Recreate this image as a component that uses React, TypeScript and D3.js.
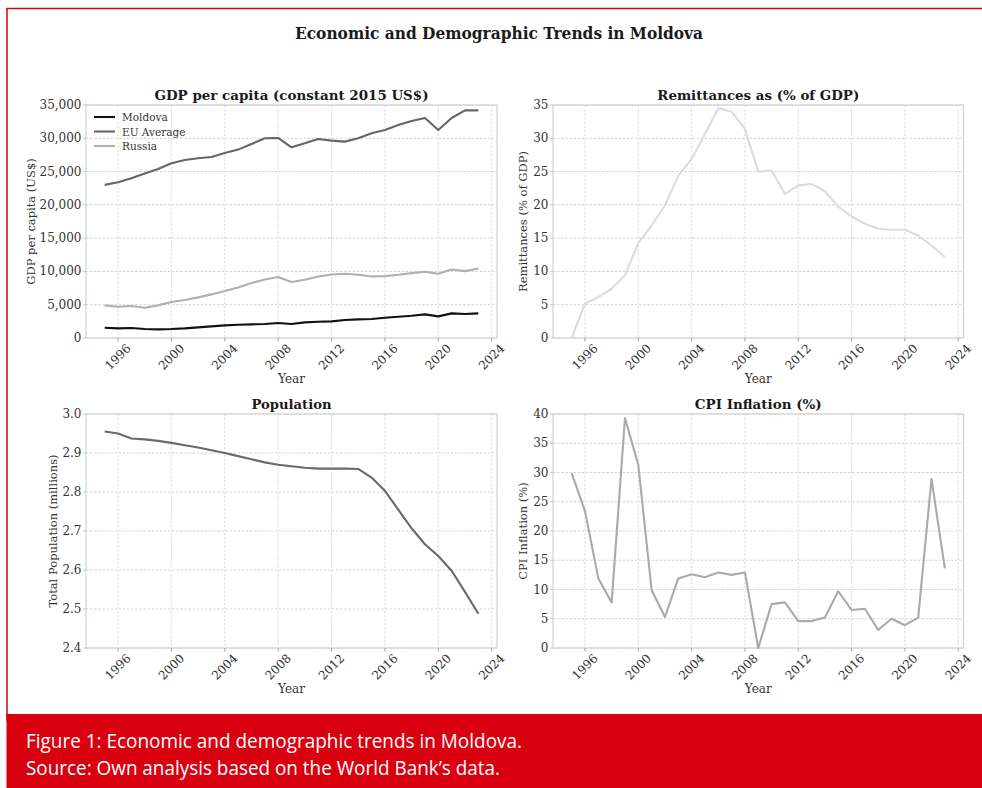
import React from "react";
import * as d3 from "d3";

const years: number[] = d3.range(1995, 2024);

const gdpMoldova = [1550, 1450, 1500, 1350, 1300, 1350, 1450, 1600, 1750, 1900, 2000, 2050, 2100, 2250, 2100, 2350, 2450, 2500, 2700, 2800, 2850, 3050, 3200, 3350, 3550, 3250, 3700, 3600, 3700];
const gdpEU = [23000, 23400, 24000, 24700, 25400, 26250, 26750, 27000, 27200, 27800, 28300, 29150, 30000, 30050, 28650, 29250, 29900, 29650, 29500, 30000, 30750, 31250, 32000, 32600, 33050, 31250, 33050, 34200, 34200];
const gdpRussia = [4900, 4700, 4800, 4550, 4900, 5400, 5700, 6100, 6550, 7050, 7600, 8250, 8800, 9150, 8400, 8750, 9250, 9550, 9650, 9500, 9250, 9300, 9500, 9750, 9950, 9650, 10300, 10050, 10450];
const remittances = [0, 5.15, 6.15, 7.4, 9.4, 14.25, 16.9, 19.9, 24.4, 26.9, 30.65, 34.5, 34.0, 31.4, 25.0, 25.15, 21.65, 22.9, 23.15, 22.05, 19.75, 18.25, 17.15, 16.4, 16.25, 16.25, 15.4, 13.9, 12.15];
const population = [2.955, 2.95, 2.937, 2.935, 2.931, 2.926, 2.92, 2.914, 2.907, 2.9, 2.892, 2.884, 2.876, 2.87, 2.866, 2.862, 2.86, 2.86, 2.86, 2.859, 2.837, 2.803, 2.755, 2.707, 2.666, 2.636, 2.598, 2.544, 2.488];
const cpi = [29.9, 23.4, 11.9, 7.8, 39.3, 31.3, 9.9, 5.3, 11.9, 12.6, 12.1, 12.9, 12.5, 12.9, 0.0, 7.5, 7.8, 4.6, 4.6, 5.2, 9.7, 6.5, 6.7, 3.1, 5.0, 3.9, 5.2, 28.9, 13.6];

const xTicks = [1996, 2000, 2004, 2008, 2012, 2016, 2020, 2024];
const gdpTicks = [0, 5000, 10000, 15000, 20000, 25000, 30000, 35000];
const remitTicks = [0, 5, 10, 15, 20, 25, 30, 35];
const popTicks = [2.4, 2.5, 2.6, 2.7, 2.8, 2.9, 3.0];
const cpiTicks = [0, 5, 10, 15, 20, 25, 30, 35, 40];

const mainTitle = "Economic and Demographic Trends in Moldova";
const captionLines = [
  "Figure 1: Economic and demographic trends in Moldova.",
  "Source: Own analysis based on the World Bank\u2019s data.",
];

const SERIF = "'DejaVu Serif', serif";
const RED = "#d9000f";

type Series = { name: string; values: number[]; color: string };

type PanelProps = {
  x0: number;
  x1: number;
  y0: number;
  y1: number;
  title: string;
  titleLen: number;
  ylabel: string;
  ylabelX: number;
  yDomain: [number, number];
  yTicks: number[];
  yFmt: (v: number) => string;
  series: Series[];
  legend?: boolean;
};

function Panel(p: PanelProps) {
  const x = d3.scaleLinear().domain([1993.6, 2024.4]).range([p.x0, p.x1]);
  const y = d3.scaleLinear().domain(p.yDomain).range([p.y1, p.y0]);
  const line = (vals: number[]) =>
    d3
      .line<number>()
      .x((_, i) => x(years[i]))
      .y((v) => y(v))(vals) || "";
  const cx = (p.x0 + p.x1) / 2;
  const cy = (p.y0 + p.y1) / 2;
  return (
    <g>
      {p.yTicks.map((t) => (
        <line key={"gy" + t} x1={p.x0} x2={p.x1} y1={y(t)} y2={y(t)} stroke="#cfcfcf" strokeWidth={0.9} strokeDasharray="2.5,1.6" />
      ))}
      {xTicks.map((t) => (
        <line key={"gx" + t} x1={x(t)} x2={x(t)} y1={p.y0} y2={p.y1} stroke="#d6d6d6" strokeWidth={0.8} strokeDasharray="2.5,1.6" />
      ))}
      <rect x={p.x0} y={p.y0} width={p.x1 - p.x0} height={p.y1 - p.y0} fill="none" stroke="#d2d2d2" strokeWidth={1.2} />
      {xTicks.map((t) => (
        <line key={"tx" + t} x1={x(t)} x2={x(t)} y1={p.y1} y2={p.y1 + 3.5} stroke="#888" strokeWidth={0.8} />
      ))}
      {p.yTicks.map((t) => (
        <line key={"ty" + t} x1={p.x0 - 3} x2={p.x0} y1={y(t)} y2={y(t)} stroke="#bbb" strokeWidth={0.8} />
      ))}
      {xTicks.map((t) => (
        <text
          key={"lx" + t}
          transform={`translate(${x(t)},${p.y1 + 19}) rotate(-45)`}
          textAnchor="middle"
          dominantBaseline="central"
          fontFamily={SERIF}
          fontSize={12}
          fill="#333"
        >
          {t}
        </text>
      ))}
      {p.yTicks.map((t) => (
        <text key={"ly" + t} x={p.x0 - 4.5} y={y(t)} textAnchor="end" dominantBaseline="central" fontFamily={SERIF} fontSize={12} fill="#333">
          {p.yFmt(t)}
        </text>
      ))}
      {p.series.map((s) => (
        <path key={s.name} d={line(s.values)} fill="none" stroke={s.color} strokeWidth={2.1} strokeLinejoin="round" />
      ))}
      <text x={cx} y={p.y0 - 5.5} textAnchor="middle" fontFamily={SERIF} fontWeight="bold" fontSize={13.5} fill="#1a1a1a" textLength={p.titleLen} lengthAdjust="spacingAndGlyphs">
        {p.title}
      </text>
      <text x={cx} y={p.y1 + 44.5} textAnchor="middle" fontFamily={SERIF} fontSize={12} fill="#333">
        Year
      </text>
      <text transform={`translate(${p.ylabelX},${cy}) rotate(-90)`} textAnchor="middle" dominantBaseline="central" fontFamily={SERIF} fontSize={11.5} fill="#333">
        {p.ylabel}
      </text>
      {p.legend &&
        p.series.map((s, i) => (
          <g key={"lg" + s.name}>
            <line x1={p.x0 + 8} x2={p.x0 + 29} y1={p.y0 + 12 + i * 14.5} y2={p.y0 + 12 + i * 14.5} stroke={s.color} strokeWidth={2.1} />
            <text x={p.x0 + 36} y={p.y0 + 12 + i * 14.5} dominantBaseline="central" fontFamily={SERIF} fontSize={10.5} fill="#333">
              {s.name}
            </text>
          </g>
        ))}
    </g>
  );
}

export default function App() {
  const W = 982;
  const H = 788;
  const fmtComma = d3.format(",");
  const fmtInt = d3.format("d");
  const fmt1 = d3.format(".1f");
  return (
    <div style={{ position: "absolute", left: 0, top: 0 }}>
      <svg width={W} height={H} style={{ display: "block" }}>
        <rect x={0} y={0} width={W} height={H} fill="#ffffff" />
        <rect x={7} y={8.5} width={W + 10} height={712} fill="none" stroke={RED} strokeWidth={1.5} />
        <rect x={6.5} y={714} width={W} height={H - 714} fill={RED} />
        <text x={499} y={39} textAnchor="middle" fontFamily="'DejaVu Serif Condensed', 'DejaVu Serif', serif" fontWeight="bold" fontSize={16} fill="#1a1a1a" textLength={408} lengthAdjust="spacingAndGlyphs">
          {mainTitle}
        </text>
        <Panel
          x0={86}
          x1={497}
          y0={105}
          y1={338}
          title="GDP per capita (constant 2015 US$)"
          titleLen={274}
          ylabel="GDP per capita (US$)"
          ylabelX={31}
          yDomain={[0, 35000]}
          yTicks={gdpTicks}
          yFmt={fmtComma}
          series={[
            { name: "Moldova", values: gdpMoldova, color: "#111111" },
            { name: "EU Average", values: gdpEU, color: "#666666" },
            { name: "Russia", values: gdpRussia, color: "#b0b0b0" },
          ]}
          legend
        />
        <Panel
          x0={553}
          x1={963.5}
          y0={105}
          y1={338}
          title="Remittances as (% of GDP)"
          titleLen={202}
          ylabel="Remittances (% of GDP)"
          ylabelX={523}
          yDomain={[0, 35]}
          yTicks={remitTicks}
          yFmt={fmtInt}
          series={[{ name: "Remittances", values: remittances, color: "#dcdcdc" }]}
        />
        <Panel
          x0={86}
          x1={497}
          y0={414}
          y1={648}
          title="Population"
          titleLen={80}
          ylabel="Total Population (millions)"
          ylabelX={53}
          yDomain={[2.4, 3.0]}
          yTicks={popTicks}
          yFmt={fmt1}
          series={[{ name: "Population", values: population, color: "#6a6a6a" }]}
        />
        <Panel
          x0={553}
          x1={963.5}
          y0={414}
          y1={648}
          title="CPI Inflation (%)"
          titleLen={127}
          ylabel="CPI Inflation (%)"
          ylabelX={523}
          yDomain={[0, 40]}
          yTicks={cpiTicks}
          yFmt={fmtInt}
          series={[{ name: "CPI", values: cpi, color: "#aaaaaa" }]}
        />
        {captionLines.map((c, i) => (
          <text key={i} x={26} y={748 + i * 27} fontFamily="'Open Sans', sans-serif" fontSize={20} fill="#ffffff" textLength={i === 0 ? 496 : 474} lengthAdjust="spacingAndGlyphs">
            {c}
          </text>
        ))}
      </svg>
    </div>
  );
}
